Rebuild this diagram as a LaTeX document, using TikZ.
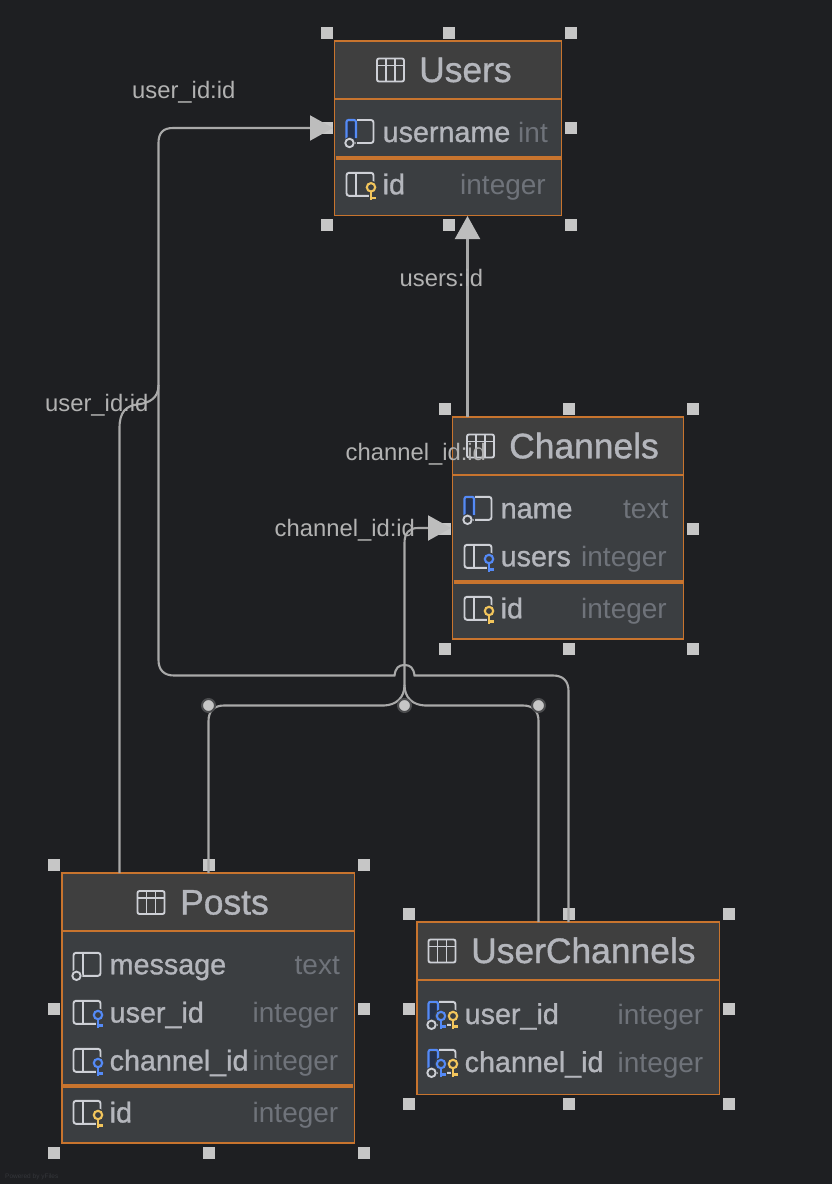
\documentclass[tikz,border=0pt]{standalone}
\usepackage{fontspec}
\setmainfont{Liberation Sans}
\newfontfamily\semifont[FakeBold=1.0]{Liberation Sans}
\usetikzlibrary{fit,arrows.meta}
\definecolor{bgc}{HTML}{1E1F22}
\definecolor{bodyc}{HTML}{3B3E41}
\definecolor{headc}{HTML}{3F3F3F}
\definecolor{orangec}{HTML}{C8742E}
\definecolor{handlec}{HTML}{C6C6C6}
\definecolor{linec}{HTML}{A9A9A9}
\definecolor{tipc}{HTML}{BDBDBD}
\definecolor{labelc}{HTML}{B2B2B2}
\definecolor{fieldc}{HTML}{B4B6BC}
\definecolor{typec}{HTML}{6F737A}
\definecolor{iconc}{HTML}{CED0D6}
\definecolor{bluec}{HTML}{548AF7}
\definecolor{bluedark}{HTML}{25324D}
\definecolor{yellowc}{HTML}{F2C55C}
\definecolor{footc}{HTML}{34363A}
\tikzset{
  tablebox/.style={draw=orangec,line width=1.3pt,fill=bodyc,inner sep=0pt,rectangle},
  handlebox/.style={fill=handlec,draw=none,inner sep=0pt,minimum size=11.5pt,rectangle},
  joindot/.style={circle,fill=handlec,draw=white!20!bgc,line width=2pt,inner sep=0pt,minimum size=13pt},
  conn/.style={draw=linec,line width=2.1pt},
  arrowconn/.style={conn,-{Triangle[length=23pt,width=25pt,color=tipc]}},
  edgelabel/.style={anchor=base west,inner sep=0pt,text=labelc,font=\fontsize{23.8}{24}\selectfont},
  titletext/.style={anchor=base west,inner sep=0pt,text=fieldc,font=\semifont\fontsize{35.4}{36}\selectfont},
  fieldtext/.style={anchor=base west,inner sep=0pt,text=fieldc,font=\semifont\fontsize{28.7}{29}\selectfont},
  typetext/.style={anchor=base east,inner sep=0pt,text=typec,font=\fontsize{28}{28}\selectfont},
  iconline/.style={draw=iconc,line width=1.9pt},
  footer/.style={anchor=base west,inner sep=0pt,text=footc,font=\fontsize{6.5}{7}\selectfont}
}
% table frame: name, x0, y0, x1, y1, header bottom
\newcommand{\tablebody}[6]{%
  \node[tablebox,fit={(#2,#3)(#4,#5)}] (#1) {};
  \fill[headc] (#2,#3) rectangle (#4,#6);
  \draw[orangec,line width=1.3pt] (#2,#3) rectangle (#4,#5);
  \draw[orangec,line width=2pt] (#2,#6) -- (#4,#6);
}
\newcommand{\sepline}[3]{\draw[orangec,line width=3.5pt] (#1,#3) -- (#2,#3);}
\newcommand{\tableicon}[2]{%
  \begin{scope}[shift={(#1,#2)}]
    \draw[iconline,rounded corners=2pt] (0,0) rectangle (27,23);
    \draw[iconline] (0,7) -- (27,7) (9,0) -- (9,23) (18,0) -- (18,23);
  \end{scope}}
\newcommand{\colbase}[2]{%
  \begin{scope}[shift={(#1,#2)}]
    \draw[iconline,rounded corners=2.5pt] (0,0) rectangle (27,23);
    \draw[iconline] (9.5,0) -- (9.5,23);
  \end{scope}}
\newcommand{\nullring}[2]{%
  \begin{scope}[shift={(#1,#2)}]
    \fill[bodyc] (3,23) circle (6);
    \draw[iconc,line width=1.9pt] (3,23) circle (4.2);
  \end{scope}}
\newcommand{\bluenn}[2]{%
  \begin{scope}[shift={(#1,#2)}]
    \draw[iconline,rounded corners=2.5pt] (0,0) rectangle (27,23);
    \fill[bodyc] (-1.5,-1.5) rectangle (10.5,24.5);
    \draw[iconline] (9.5,23) -- (3,23);
    \fill[bluedark] (0,2) rectangle (9.5,20);
    \draw[bluec,line width=2.1pt,rounded corners=2pt] (0,20) -- (0,0) -- (9.5,0) -- (9.5,18);
  \end{scope}}
\newcommand{\keyglyph}[3]{%
  \begin{scope}[shift={(#1,#2)}]
    \fill[bodyc] (0,0) circle (6.5);
    \fill[bodyc] (-2.5,0) rectangle (6,13.5);
    \draw[#3,line width=2.1pt] (0,0) circle (4.2);
    \draw[#3,line width=2.4pt] (-0.3,4.2) -- (-0.3,13);
    \draw[#3,line width=2.1pt] (-0.3,10.5) -- (5,10.5);
  \end{scope}}
\newcommand{\handles}[7]{%
  \node[handlebox] (#1-nw) at (#2,#5) {};
  \node[handlebox] (#1-n)  at (#3,#5) {};
  \node[handlebox] (#1-ne) at (#4,#5) {};
  \node[handlebox] (#1-w)  at (#2,#6) {};
  \node[handlebox] (#1-e)  at (#4,#6) {};
  \node[handlebox] (#1-sw) at (#2,#7) {};
  \node[handlebox] (#1-s)  at (#3,#7) {};
  \node[handlebox] (#1-se) at (#4,#7) {};
}
\begin{document}
\begin{tikzpicture}[x=1pt,y=-1pt]
\useasboundingbox (0,0) rectangle (832,1184);
\fill[bgc] (0,0) rectangle (832,1184);

% ---- tables
\tablebody{users}{334.7}{41}{561.3}{215.3}{99}
\sepline{335.5}{560.5}{157.8}
\tablebody{channels}{452.8}{417}{683.2}{639}{475}
\sepline{453.5}{682.5}{582}
\tablebody{posts}{62}{873}{354.2}{1143}{930.7}
\sepline{62.8}{353.4}{1086}
\tablebody{userchannels}{417}{922}{719.3}{1094.2}{980}

% ---- table icons
\tableicon{377}{58.5}
\tableicon{467}{434.5}
\tableicon{137.5}{891}
\tableicon{428.5}{939.5}

% ---- column icons: Users
\bluenn{346.5}{120}\nullring{346.5}{120}
\colbase{346.5}{172.8}\keyglyph{371}{187.3}{yellowc}
% Channels
\bluenn{464.5}{496.8}\nullring{464.5}{496.8}
\colbase{464.5}{544.8}\keyglyph{489}{559}{bluec}
\colbase{464.5}{596.8}\keyglyph{489}{611}{yellowc}
% Posts
\colbase{73.5}{952.8}\nullring{73.5}{952.8}
\colbase{73.5}{1000.8}\keyglyph{98}{1015}{bluec}
\colbase{73.5}{1048.8}\keyglyph{98}{1063}{bluec}
\colbase{73.5}{1100.8}\keyglyph{98}{1115}{yellowc}
% UserChannels
\bluenn{428.5}{1001.8}\nullring{428.5}{1001.8}\keyglyph{441}{1016}{bluec}\keyglyph{453}{1016}{yellowc}
\bluenn{428.5}{1049.8}\nullring{428.5}{1049.8}\keyglyph{441}{1064}{bluec}\keyglyph{453}{1064}{yellowc}

% ---- table texts
\node[titletext] (users-title) at (419,82) {Users};
\node[fieldtext] (users-username) at (382.5,142) {username};
\node[typetext]  (users-username-type) at (548,142) {int};
\node[fieldtext] (users-id) at (382.5,194.3) {id};
\node[typetext]  (users-id-type) at (546,194.3) {integer};

\node[titletext] (channels-title) at (509,458.3) {Channels};
\node[fieldtext] (channels-name) at (500.5,518.3) {name};
\node[typetext]  (channels-name-type) at (668.5,518.3) {text};
\node[fieldtext] (channels-users) at (500.5,566.3) {users};
\node[typetext]  (channels-users-type) at (667,566.3) {integer};
\node[fieldtext] (channels-id) at (500.5,618.3) {id};
\node[typetext]  (channels-id-type) at (667,618.3) {integer};

\node[titletext] (posts-title) at (180,914.5) {Posts};
\node[fieldtext] (posts-message) at (109.5,974.3) {message};
\node[typetext]  (posts-message-type) at (340,974.3) {text};
\node[fieldtext] (posts-user) at (109.5,1022.5) {user\_id};
\node[typetext]  (posts-user-type) at (338.5,1022.5) {integer};
\node[fieldtext] (posts-channel) at (109.5,1070.5) {channel\_id};
\node[typetext]  (posts-channel-type) at (338.5,1070.5) {integer};
\node[fieldtext] (posts-id) at (109.5,1122.5) {id};
\node[typetext]  (posts-id-type) at (338.5,1122.5) {integer};

\node[titletext] (uc-title) at (471,963) {UserChannels};
\node[fieldtext] (uc-user) at (464.5,1024) {user\_id};
\node[typetext]  (uc-user-type) at (703.5,1024) {integer};
\node[fieldtext] (uc-channel) at (464.5,1072) {channel\_id};
\node[typetext]  (uc-channel-type) at (703.5,1072) {integer};

% ---- selection handles
\handles{uh}{327}{449}{571}{33}{128}{225}
\handles{ch}{445}{569}{693}{409}{529}{649}
\handles{ph}{54}{209}{364}{865}{1009}{1153}
\handles{xh}{409}{569}{729}{914}{1009}{1104}

% ---- connector ends
\coordinate (postsUser) at (119.5,873);
\coordinate (postsChan) at (208.5,873);
\coordinate (ucChan) at (538.5,922);
\coordinate (ucUser) at (568.5,922);
\coordinate (chUsers) at (467.5,417);
\coordinate (usersBottom) at (467.5,216);
\coordinate (usersIn) at (333,128);
\coordinate (chanIn) at (451,528);
\coordinate (busUser) at (158.5,385);
\coordinate (busChan) at (404.5,685);

% ---- connectors
\draw[arrowconn] (chUsers) -- (usersBottom);

\draw[arrowconn] (postsUser) -- (119.5,428)
  .. controls (119.5,412) and (126,406) .. (137,404.5)
  .. controls (150,403) and (158.5,398) .. (busUser)
  -- (158.5,143) .. controls (158.5,133) and (163,128) .. (173,128) -- (usersIn);

\draw[conn] (ucUser) -- (568.5,691) .. controls (568.5,681) and (563,675.5) .. (553,675.5)
  -- (414.5,675.5) .. controls (413.5,668) and (410.5,665) .. (404.5,665)
  .. controls (398.5,665) and (395.5,668) .. (394.5,675.5)
  -- (174,675.5) .. controls (164,675.5) and (158.5,670) .. (158.5,660) -- (busUser);

\draw[conn] (postsChan) -- (208.5,721) .. controls (208.5,711) and (214,705.5) .. (224,705.5)
  -- (384,705.5) .. controls (396,705) and (404.5,698) .. (busChan);
\draw[conn] (ucChan) -- (538.5,721) .. controls (538.5,711) and (533,705.5) .. (523,705.5)
  -- (425,705.5) .. controls (413,705) and (404.5,698) .. (busChan);
\draw[arrowconn] (busChan) -- (404.5,543) .. controls (404.5,533) and (409,528) .. (418,528) -- (chanIn);

% ---- join dots
\node[joindot] (dotL) at (208.5,705.5) {};
\node[joindot] (dotM) at (404.5,705.5) {};
\node[joindot] (dotR) at (538.5,705.5) {};

% ---- connector labels
\node[edgelabel] (l1) at (132,98.5) {user\_id:id};
\node[edgelabel] (l2) at (45,411.5) {user\_id:id};
\node[edgelabel] (l3) at (399.5,286.7) {users:id};
\node[edgelabel] (l4) at (345.5,460) {channel\_id:id};
\node[edgelabel] (l5) at (274.5,536.2) {channel\_id:id};

\node[footer] (powered) at (5,1178) {Powered by yFiles};
\end{tikzpicture}
\end{document}
